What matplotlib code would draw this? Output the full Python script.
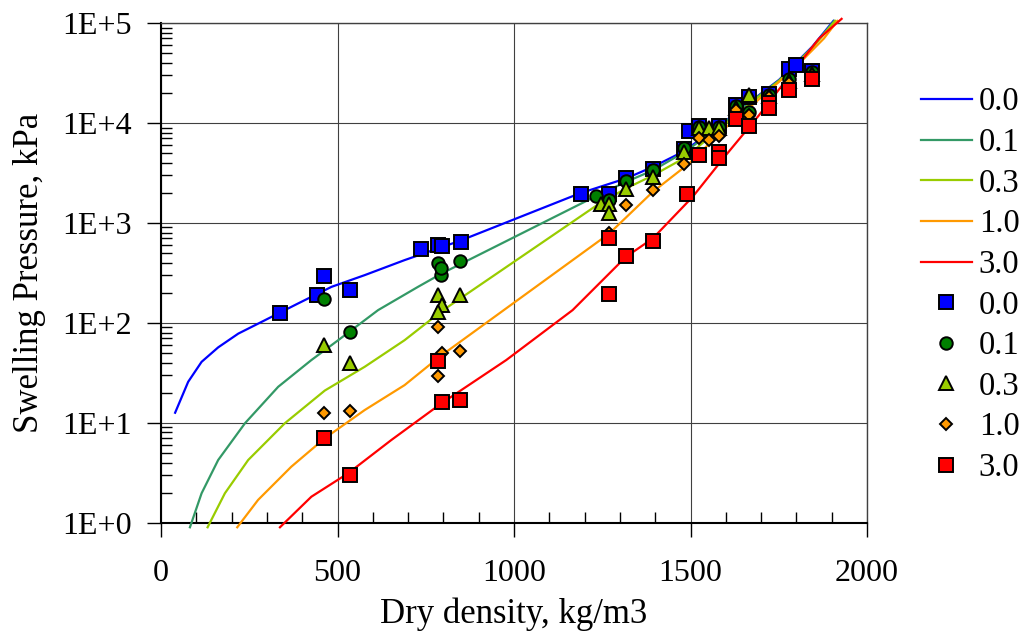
import numpy as np
import matplotlib
matplotlib.use("Agg")
import matplotlib.pyplot as plt
from matplotlib.ticker import FixedLocator, FixedFormatter, MultipleLocator

plt.rcParams['font.family'] = ['Liberation Serif', 'DejaVu Serif']

# ---- model curves (dry density, swelling pressure) for each salt concentration
labels = ["0.0", "0.1", "0.3", "1.0", "3.0"]

curve_x_00 = [40, 77, 115, 162, 219, 294, 388, 483, 577, 690, 846, 1185, 1318, 1393, 1478,
              1581, 1676, 1751, 1845, 1905]
curve_y_00 = [12.6, 25.7, 40.7, 56.8, 78, 106, 156, 229, 300, 424, 660, 1967, 2790, 3630, 5130,
              9300, 17000, 27000, 58000, 105000]

curve_x_01 = [82, 115, 162, 238, 332, 426, 502, 615, 728, 794, 1228, 1317, 1395, 1490, 1581,
              1676, 1751, 1845, 1907]
curve_y_01 = [0.9, 1.97, 4.24, 9.9, 22.9, 42.4, 67, 134, 229, 310, 1820, 2570, 3370, 5300, 9200,
              16800, 26700, 57000, 105000]

curve_x_03 = [132, 181, 247, 351, 464, 577, 690, 794, 1242, 1317, 1395, 1488, 1581, 1676, 1751,
              1845, 1910]
curve_y_03 = [0.9, 1.97, 4.24, 9.9, 21, 36.3, 67, 130, 1563, 2208, 3000, 4570, 8700, 16300, 26300,
              56500, 105000]

curve_x_10 = [216, 275, 369, 464, 577, 690, 790, 1270, 1393, 1496, 1600, 1700, 1790, 1878, 1916]
curve_y_10 = [0.9, 1.69, 3.63, 7.0, 13.4, 23.8, 46, 783, 2042, 3930, 9000, 18000, 34000, 70000,
              105000]

curve_x_30 = [337, 426, 530, 652, 794, 978, 1166, 1317, 1393, 1506, 1600, 1694, 1789, 1864, 1928]
curve_y_30 = [0.9, 1.82, 3.12, 6.7, 15.6, 42.4, 134, 457, 698, 1820, 4750, 11940, 32360, 69800,
              110000]

# ---- measured points
meas_x_00 = [337, 441, 461, 535, 736, 784, 795, 849, 1190, 1270, 1317, 1395, 1482, 1496, 1525,
             1581, 1630, 1667, 1723, 1779, 1800, 1843]
meas_y_00 = [125, 189, 293, 212, 546, 598, 585, 641, 1950, 1950, 2800, 3450, 5500, 8300, 9300,
             9300, 15000, 18200, 19500, 35000, 37800, 33000]

meas_x_01 = [462, 534, 785, 792, 794, 848, 1232, 1270, 1317, 1395, 1482, 1525, 1581, 1630, 1667,
             1723, 1779, 1843]
meas_y_01 = [175, 81, 393, 298, 355, 414, 1850, 1690, 2610, 3370, 5600, 9100, 9100, 14800, 12900,
             19200, 27800, 32400]

meas_x_03 = [462, 534, 785, 796, 785, 848, 1247, 1270, 1270, 1317, 1395, 1482, 1525, 1553, 1581,
             1630, 1667, 1723, 1779, 1843]
meas_y_03 = [60, 40, 188, 152, 127, 188, 1560, 1560, 1270, 2180, 2900, 5100, 8800, 8800, 8800,
             14000, 18900, 18500, 26500, 31000]

meas_x_10 = [462, 534, 785, 796, 785, 848, 1270, 1317, 1395, 1482, 1525, 1553, 1581, 1630, 1667,
             1723, 1779, 1843]
meas_y_10 = [12.4, 13, 91, 50, 29.5, 52, 783, 1527, 2124, 3865, 7080, 6720, 7400, 13400, 11900,
             18200, 25300, 30000]

meas_x_30 = [462, 534, 785, 796, 848, 1270, 1270, 1317, 1395, 1490, 1525, 1581, 1581, 1630, 1667,
             1723, 1723, 1779, 1843]
meas_y_30 = [7.0, 3.0, 41.4, 16.0, 16.9, 714, 194, 465, 656, 1967, 4750, 5130, 4470, 10900, 9270,
             16000, 14130, 21200, 27800]

y_ticks = [1, 10, 100, 1000, 10000, 100000]
y_tick_labels = ["1E+0", "1E+1", "1E+2", "1E+3", "1E+4", "1E+5"]
x_ticks = [0, 500, 1000, 1500, 2000]

line_colors = ["#0000FF", "#339966", "#99CC00", "#FF9900", "#FF0000"]
marker_colors = ["#0000FF", "#008000", "#99CC00", "#FF9900", "#FF0000"]
marker_shapes = ["s", "o", "^", "D", "s"]
marker_sizes = [9.5, 9, 9.5, 6, 9.5]

curves = [(curve_x_00, curve_y_00), (curve_x_01, curve_y_01), (curve_x_03, curve_y_03),
          (curve_x_10, curve_y_10), (curve_x_30, curve_y_30)]
points = [(meas_x_00, meas_y_00), (meas_x_01, meas_y_01), (meas_x_03, meas_y_03),
          (meas_x_10, meas_y_10), (meas_x_30, meas_y_30)]

fig = plt.figure(figsize=(10.28, 6.32), dpi=100)
ax = fig.add_axes([161 / 1028, 1 - 522.7 / 632, (867 - 161) / 1028, (522.7 - 23) / 632])

ax.set_yscale("log")
ax.set_xlim(0, 2000)
ax.set_ylim(1, 100000)

handles = []
for i in range(5):
    cx, cy = curves[i]
    h, = ax.plot(cx, cy, color=line_colors[i], linewidth=1.6, clip_on=False, zorder=3,
                 label=labels[i])
    handles.append(h)

for i in range(5):
    mx, my = points[i]
    h, = ax.plot(mx, my, linestyle="none", marker=marker_shapes[i], markersize=marker_sizes[i],
                 markerfacecolor=marker_colors[i], markeredgecolor="black",
                 markeredgewidth=1.4, zorder=4 + i, label=labels[i])
    handles.append(h)

ax.grid(True, which="major", color="#404040", linewidth=0.8)
ax.set_axisbelow(True)

ax.yaxis.set_major_locator(FixedLocator(y_ticks))
ax.yaxis.set_major_formatter(FixedFormatter(y_tick_labels))
ax.xaxis.set_major_locator(FixedLocator(x_ticks))
ax.xaxis.set_minor_locator(MultipleLocator(100))

ax.tick_params(axis="both", which="major", direction="out", length=10, width=1,
               labelsize=23, color="black")
ax.tick_params(axis="y", which="major", pad=11)
ax.tick_params(axis="x", which="major", pad=16)
ax.tick_params(axis="both", which="minor", direction="in", length=8, width=1, color="black")
ax.yaxis.set_minor_formatter(FixedFormatter([]))

for side in ["left", "bottom"]:
    ax.spines[side].set_color("black")
    ax.spines[side].set_linewidth(1.5)
for side in ["top", "right"]:
    ax.spines[side].set_color("#404040")
    ax.spines[side].set_linewidth(1.0)

ax.set_xlabel("Dry density, kg/m3", fontsize=25, labelpad=7)
ax.set_ylabel("Swelling Pressure, kPa", fontsize=25, labelpad=12)

fig.legend(handles=handles, loc="upper left", bbox_to_anchor=(921 / 1028, 1 - 87 / 632),
           frameon=False, fontsize=23.5, handlelength=1.56, handletextpad=0.21,
           labelspacing=0.31, borderpad=0, borderaxespad=0)

fig.savefig("out.png", dpi=100)
